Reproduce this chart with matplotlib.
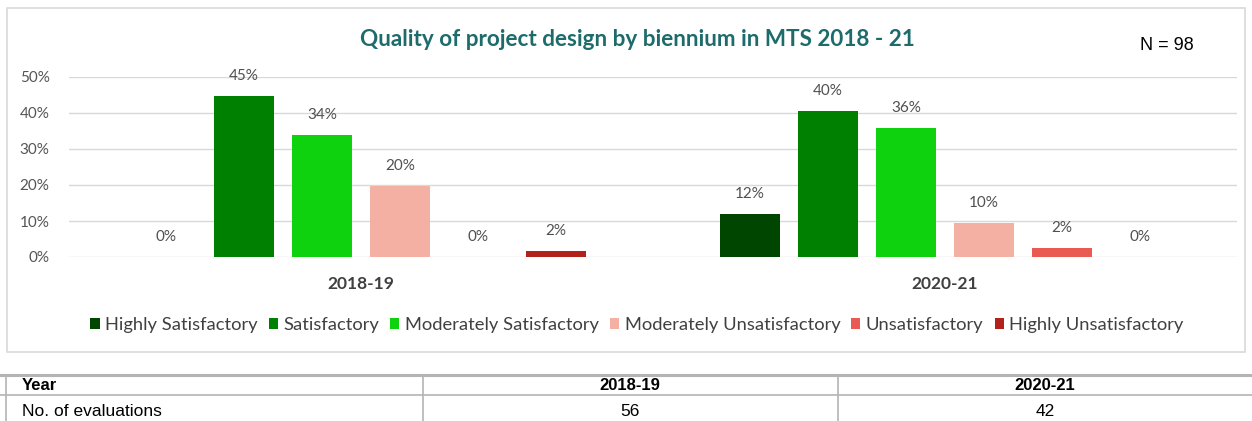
import numpy as np
import matplotlib
matplotlib.use("Agg")
import matplotlib.pyplot as plt
from matplotlib.patches import Rectangle, Patch

# ---------------- data ----------------
bienniums = ["2018-19", "2020-21"]
ratings = ["Highly Satisfactory", "Satisfactory", "Moderately Satisfactory",
           "Moderately Unsatisfactory", "Unsatisfactory", "Highly Unsatisfactory"]
share_2018_19 = [0.0, 0.446, 0.339, 0.196, 0.0, 0.018]
share_2020_21 = [0.119, 0.405, 0.357, 0.095, 0.024, 0.0]
colors = ["#004500", "#008000", "#0fd20f", "#f4b0a3", "#e85a52", "#b1221b"]
yticks = [0.0, 0.1, 0.2, 0.3, 0.4, 0.5]
title = "Quality of project design by biennium in MTS 2018 - 21"
n_label = "N = 98"
table_header = ["Year", "2018-19", "2020-21"]
table_row = ["No. of evaluations", "56", "42"]

W, H = 1252, 421
fig = plt.figure(figsize=(W / 100, H / 100), dpi=100)
fig.patch.set_facecolor("white")

# background axes in pixel coords (border + table)
bg = fig.add_axes([0, 0, 1, 1], zorder=0)
bg.set_xlim(0, W)
bg.set_ylim(H, 0)
bg.axis("off")
bg.add_patch(Rectangle((7, 8), 1238, 344, fill=False, edgecolor="#d9d9d9", lw=1.2))

# table
tcol = "#b4b4b4"
bg.plot([0, W], [375, 375], color=tcol, lw=2.2)
bg.plot([0, W], [395, 395], color=tcol, lw=1.2)
for xv in [6, 423, 838]:
    bg.plot([xv, xv], [375, 421], color=tcol, lw=1.2)
tfont = ["Liberation Sans Narrow", "Liberation Sans", "DejaVu Sans"]
col_x = [22, 630, 1045]
aligns = ["left", "center", "center"]
for i in range(3):
    bg.text(col_x[i], 386, table_header[i], ha=aligns[i], va="center",
            fontsize=12, fontweight="bold", family=tfont, color="black")
    bg.text(col_x[i], 411, table_row[i], ha=aligns[i], va="center",
            fontsize=12.5, family=tfont, color="black")

# chart axes
l, r, b, t = 69, 1237, 257, 77
ax = fig.add_axes([l / W, 1 - b / H, (r - l) / W, (b - t) / H], zorder=1)
ax.patch.set_alpha(0)
x = np.arange(len(bienniums))
pitch = 0.1336
width = 0.103
data = np.array([share_2018_19, share_2020_21])
for i, rating in enumerate(ratings):
    xs = x + (i - 2.5) * pitch
    vals = data[:, i]
    ax.bar(xs, vals, width=width, color=colors[i], label=rating, zorder=3)
    for xx, v in zip(xs, vals):
        ax.annotate(f"{v * 100:.0f}%", (xx, v), xytext=(0, 20),
                    textcoords="offset pixels", ha="center", va="center",
                    fontsize=11, color="#505050", family="Lato")

ax.set_xlim(-0.5, 1.5)
ax.set_ylim(0, 0.5)
ax.set_yticks(yticks)
ax.set_yticklabels([f"{v * 100:.0f}%" for v in yticks], fontsize=11,
                   color="#555555", family="Lato")
ax.set_xticks(x)
ax.set_xticklabels(bienniums, fontsize=12.5, fontweight="bold",
                   color="#404040", family="Lato")
ax.tick_params(axis="both", length=0)
ax.tick_params(axis="x", pad=14)
ax.tick_params(axis="y", pad=14)
ax.grid(axis="y", color="#d9d9d9", lw=1, zorder=0)
for s in ax.spines.values():
    s.set_visible(False)

# title and N
fig.text(637 / W, 1 - 40 / H, title, ha="center", va="center", fontsize=16.2,
         fontweight="bold", color="#1d6b6b", family="Lato")
fig.text(1167 / W, 1 - 45 / H, n_label, ha="center", va="center", fontsize=13,
         color="black", family="Liberation Sans")

# legend
handles = [Patch(facecolor=c, edgecolor="none") for c in colors]
fig.legend(handles, ratings, loc="center", bbox_to_anchor=(637 / W, 1 - 325 / H),
           ncol=6, frameon=False, handlelength=0.5, handleheight=0.5,
           handletextpad=0.3, columnspacing=0.6,
           prop={"family": "Lato", "size": 13.2}, labelcolor="#404040")

fig.savefig("out.png", dpi=100)
